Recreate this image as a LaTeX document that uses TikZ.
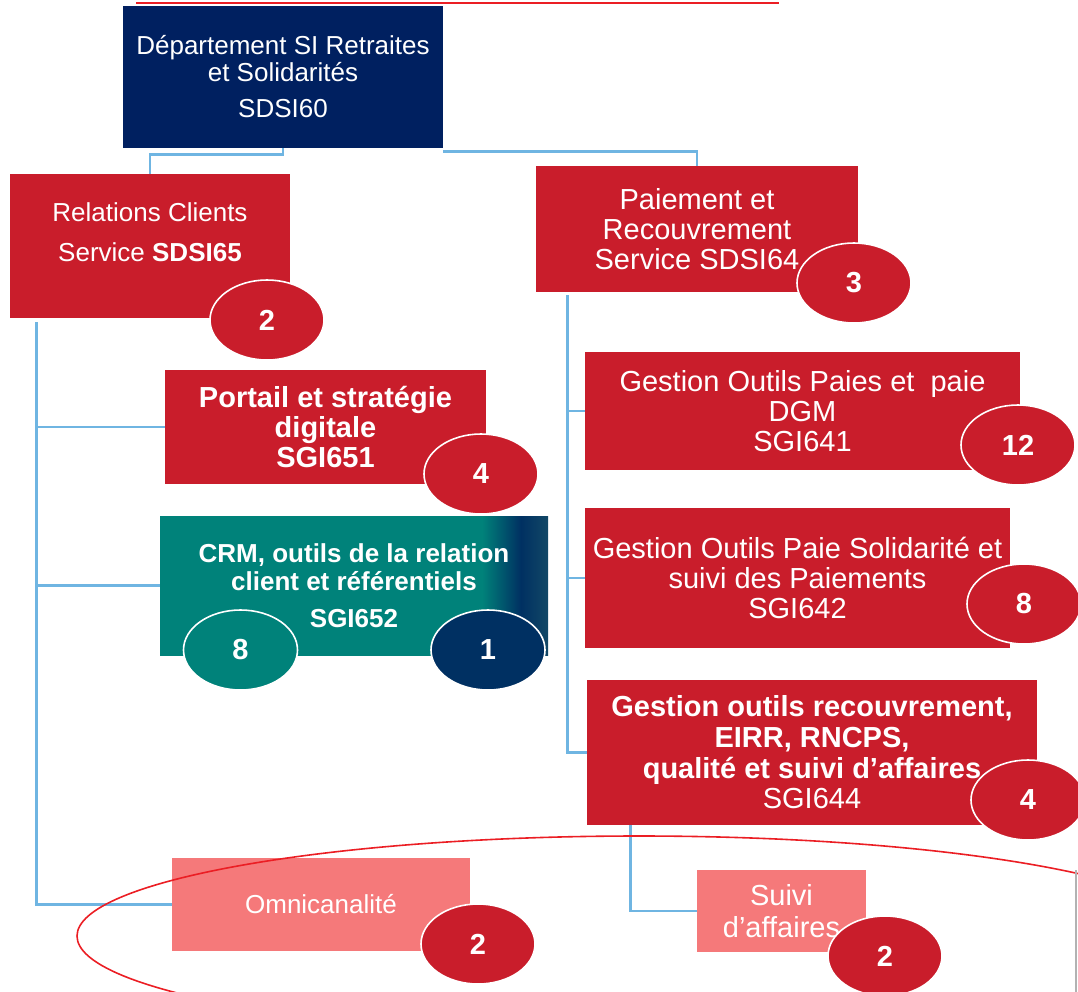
\documentclass[tikz,border=0pt]{standalone}
\usepackage{fontspec}
\setmainfont{Liberation Sans}
\usetikzlibrary{shapes.geometric}
\definecolor{sired}{RGB}{201,29,43}
\definecolor{sipink}{RGB}{245,121,122}
\definecolor{sinavy}{RGB}{0,32,96}
\definecolor{sidark}{RGB}{0,48,98}
\definecolor{sideep}{RGB}{18,72,102}
\definecolor{siteal}{RGB}{0,130,122}
\definecolor{silink}{RGB}{111,181,226}
\definecolor{siring}{RGB}{235,30,36}
\pgfdeclarehorizontalshading{crmshade}{100bp}{color(0bp)=(siteal); color(66.5bp)=(siteal);
  color(71.5bp)=(sidark); color(75bp)=(sideep); color(100bp)=(sideep)}

\begin{document}
\begin{tikzpicture}[x=0.5pt,y=-0.5pt]
\tikzset{
  box/.style={rectangle,inner sep=0pt,text=white,align=center,font=\fontsize{14.5}{15}\selectfont},
  redbox/.style={box,fill=sired},
  pinkbox/.style={box,fill=sipink},
  boxtext/.style={inner sep=0pt,text=white,align=center,font=\fontsize{13}{13.5}\selectfont},
  count/.style={ellipse,inner sep=0pt,fill=sired,draw=white,line width=0.8pt,text=white,
    minimum width=57pt,minimum height=40pt,font=\bfseries\fontsize{14.5}{14.5}\selectfont},
  link/.style={draw=silink,line width=1.4pt},
}
\useasboundingbox (0,0) rectangle (1078,992);
\clip (0,0) rectangle (1078,992);

\draw[siring,line width=1pt] (136,3) -- (779,3);

\node[box,fill=sinavy,minimum width=160pt,minimum height=71pt,font=\fontsize{13}{13.5}\selectfont] (d60) at (283,77)
  {Département SI Retraites\\et Solidarités\\[4.5pt]SDSI60};
\node[redbox,minimum width=140pt,minimum height=72pt,
  label={[boxtext,yshift=7pt]center:{Relations Clients\\[6.5pt]Service \textbf{SDSI65}}}] (s65) at (150,246) {};
\node[redbox,minimum width=161pt,minimum height=63pt] (s64) at (697,229)
  {Paiement et\\Recouvrement\\Service SDSI64};
\node[redbox,minimum width=160.5pt,minimum height=57pt,font=\bfseries\fontsize{14.5}{14.8}\selectfont] (g651) at (325.5,427)
  {Portail et stratégie\\digitale\\SGI651};
\node[box,shading=crmshade,minimum width=194pt,minimum height=69.5pt,font=\bfseries\fontsize{13}{14}\selectfont] (g652) at (354,585.5)
  {CRM, outils de la relation\\client et référentiels\\[4.5pt]SGI652};
\node[redbox,minimum width=217.5pt,minimum height=59pt] (g641) at (802.5,411)
  {Gestion Outils Paies et~ paie\\DGM\\SGI641};
\node[redbox,minimum width=212.5pt,minimum height=70pt] (g642) at (797.5,578)
  {Gestion Outils Paie Solidarité et\\suivi des Paiements\\SGI642};
\node[redbox,minimum width=225pt,minimum height=72.5pt,font=\bfseries\fontsize{14.5}{15.3}\selectfont] (g644) at (812,752.5)
  {Gestion outils recouvrement,\\EIRR, RNCPS,\\qualité et suivi d’affaires\\\mdseries SGI644};
\node[pinkbox,minimum width=149pt,minimum height=46.5pt,font=\fontsize{13}{13.5}\selectfont] (omn) at (321,904.5)
  {Omnicanalité};
\node[pinkbox,minimum width=84.5pt,minimum height=41pt,font=\fontsize{14.5}{16}\selectfont] (suiv) at (781.5,911)
  {Suivi\\d’affaires};

\draw[link] (d60.south) -- ++(0,6) -| (s65.north);
\draw[link] ([yshift=-1.5pt]d60.south east) -| (s64.north);
\coordinate (lsp) at ([xshift=13.5pt,yshift=-2pt]s65.south west);
\draw[link] (lsp) |- (omn.west);
\draw[link] (lsp |- g651.west) -- (g651.west);
\draw[link] (lsp |- g652.west) -- (g652.west);
\coordinate (rsp) at ([xshift=16pt,yshift=-1.5pt]s64.south west);
\draw[link] (rsp) |- (g644.west);
\draw[link] (rsp |- g641.west) -- (g641.west);
\draw[link] (rsp |- g642.west) -- (g642.west);
\draw[link] ([xshift=22pt]g644.south west) |- (suiv.west);

\node[count] (n65) at (267,320) {2};
\node[count] (n64) at (854,283) {3};
\node[count] (n651) at (481,474) {4};
\node[count,fill=siteal] (n652a) at (240.5,650) {8};
\node[count,fill=sidark] (n652b) at (488,650) {1};
\node[count] (n641) at (1018,445) {12};
\node[count] (n642) at (1024,604) {8};
\node[count] (n644) at (1028,800) {4};
\node[count] (nomn) at (478,944) {2};
\node[count] (nsuiv) at (885,956) {2};

\draw[siring,line width=0.8pt] (639,936) ellipse [x radius=562,y radius=100];
\draw[gray!60,line width=1pt] (1076,870) -- (1076,992);
\end{tikzpicture}
\end{document}
